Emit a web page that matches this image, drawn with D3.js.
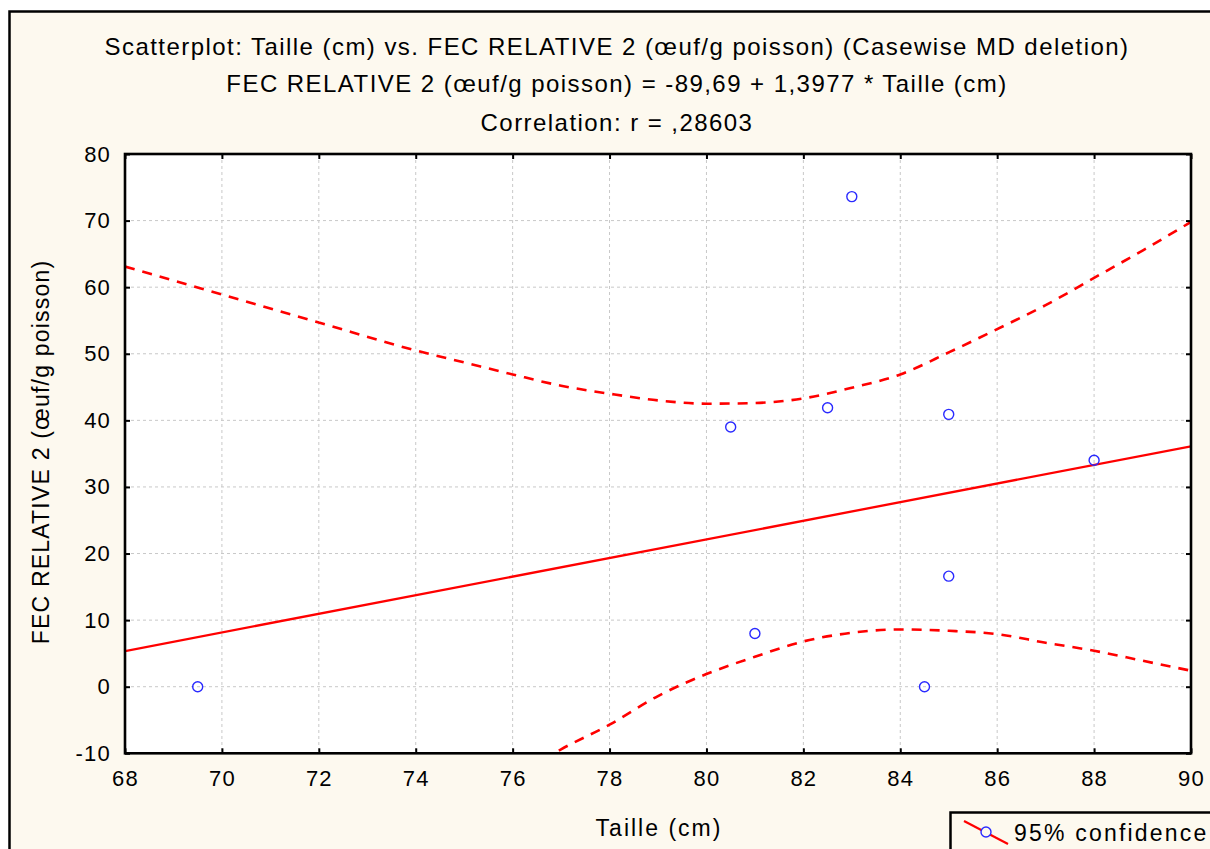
<!DOCTYPE html>
<html>
<head>
<meta charset="utf-8">
<script src="https://cdn.jsdelivr.net/npm/d3@7"></script>
<style>
  html, body { margin: 0; padding: 0; background: #ffffff; }
  svg { display: block; }
  text { font-family: "Liberation Sans", Arial, sans-serif; fill: #000; }
</style>
</head>
<body>
<svg id="chart" width="1210" height="849"></svg>
<script>
// ---- data ----
const pointsX = [69.5, 80.5, 81, 82.5, 83, 84.5, 85, 85, 88];
const pointsY = [0, 39, 8, 41.9, 73.6, 0, 40.9, 16.6, 34];

const fitIntercept = -89.69;
const fitSlope = 1.3977;

const upperX = [68, 70, 72, 74, 75, 76, 77, 78, 79, 80, 81, 82, 83, 84, 85, 86, 87, 88, 89, 90];
const upperY = [63.1, 58.9, 54.7, 50.5, 48.7, 46.9, 45.2, 44.0, 43.0, 42.5, 42.6, 43.3, 44.9, 46.9, 50.2, 53.7, 57.3, 61.4, 65.5, 69.8];

const lowerX = [76, 77, 78, 79, 80, 81, 82, 83, 84, 85, 86, 87, 88, 89, 90];
const lowerY = [-13.8, -9.4, -5.7, -1.4, 1.9, 4.5, 6.8, 8.1, 8.6, 8.4, 7.9, 6.6, 5.4, 3.9, 2.4];

const xTicks = [68, 70, 72, 74, 76, 78, 80, 82, 84, 86, 88, 90];
const yTicks = [-10, 0, 10, 20, 30, 40, 50, 60, 70, 80];

const titleLines = [
  "Scatterplot: Taille (cm) vs. FEC RELATIVE 2 (œuf/g poisson) (Casewise MD deletion)",
  "FEC RELATIVE 2 (œuf/g poisson) = -89,69 + 1,3977 * Taille (cm)",
  "Correlation: r = ,28603"
];
const xTitle = "Taille (cm)";
const yTitle = "FEC RELATIVE 2 (œuf/g poisson)";
const legendLabel = "95% confidence";

// ---- layout ----
const svg = d3.select("#chart");
const L = 125, R = 1191, T = 154, B = 753.3;
const x = d3.scaleLinear().domain([68, 90]).range([L, R]);
const y = d3.scaleLinear().domain([-10, 80]).range([B, T]);

// outer frame
svg.append("rect").attr("x", 9.5).attr("y", 11.5).attr("width", 1230).attr("height", 860)
  .attr("fill", "#fdf9ef").attr("stroke", "#000").attr("stroke-width", 2.5);

// plot bg
svg.append("rect").attr("x", L).attr("y", T).attr("width", R - L).attr("height", B - T).attr("fill", "#fff");

// grid
const grid = svg.append("g").attr("stroke", "#c8c8c8").attr("stroke-width", 1).attr("stroke-dasharray", "3,3");
xTicks.slice(1, -1).forEach(t => grid.append("line").attr("x1", x(t)).attr("x2", x(t)).attr("y1", T).attr("y2", B));
yTicks.slice(1, -1).forEach(t => grid.append("line").attr("y1", y(t)).attr("y2", y(t)).attr("x1", L).attr("x2", R));

// clip
svg.append("clipPath").attr("id", "clip").append("rect").attr("x", L).attr("y", T).attr("width", R - L).attr("height", B - T);
const plot = svg.append("g").attr("clip-path", "url(#clip)");

const lineGen = d3.line().x(d => x(d[0])).y(d => y(d[1])).curve(d3.curveMonotoneX);
const dashStyle = sel => sel.attr("fill", "none").attr("stroke", "#ff0000").attr("stroke-width", 2.6)
  .attr("stroke-dasharray", "10,8");

plot.append("path").datum(upperX.map((v, i) => [v, upperY[i]])).attr("d", lineGen).call(dashStyle);
plot.append("path").datum(lowerX.map((v, i) => [v, lowerY[i]])).attr("d", lineGen).call(dashStyle);

// fit line
const xDom = x.domain();
plot.append("line")
  .attr("x1", x(xDom[0])).attr("y1", y(fitIntercept + fitSlope * xDom[0]))
  .attr("x2", x(xDom[1])).attr("y2", y(fitIntercept + fitSlope * xDom[1]))
  .attr("stroke", "#ff0000").attr("stroke-width", 2.3);

// points
plot.selectAll("circle.pt").data(pointsX.map((v, i) => [v, pointsY[i]])).enter()
  .append("circle").attr("class", "pt")
  .attr("cx", d => x(d[0])).attr("cy", d => y(d[1])).attr("r", 5)
  .attr("fill", "none").attr("stroke", "#2a2aff").attr("stroke-width", 1.4);

// axes: frame + inward ticks on all sides
const tickLen = 5;
const fmt = d => String(d);
const axB = svg.append("g").attr("transform", `translate(0,${B})`)
  .call(d3.axisBottom(x).tickValues(xTicks).tickSizeInner(-tickLen).tickSizeOuter(0).tickPadding(17.5).tickFormat(fmt));
const axT = svg.append("g").attr("transform", `translate(0,${T})`)
  .call(d3.axisTop(x).tickValues(xTicks).tickSizeInner(-tickLen).tickSizeOuter(0).tickFormat(""));
const axL = svg.append("g").attr("transform", `translate(${L},0)`)
  .call(d3.axisLeft(y).tickValues(yTicks).tickSizeInner(-tickLen).tickSizeOuter(0).tickPadding(14).tickFormat(fmt));
const axR = svg.append("g").attr("transform", `translate(${R},0)`)
  .call(d3.axisRight(y).tickValues(yTicks).tickSizeInner(-tickLen).tickSizeOuter(0).tickFormat(""));
[axB, axT, axL, axR].forEach(a => {
  a.select(".domain").remove();
  a.selectAll(".tick line").attr("stroke", "#000").attr("stroke-width", 2);
  a.selectAll("text").attr("font-size", 22).attr("letter-spacing", 1.2)
    .attr("font-family", "Liberation Sans, Arial, sans-serif").attr("fill", "#000");
});
axB.selectAll("text").attr("dy", "0.71em");
axL.selectAll("text").attr("dy", "0.32em");

svg.append("rect").attr("x", L).attr("y", T).attr("width", R - L).attr("height", B - T)
  .attr("fill", "none").attr("stroke", "#000").attr("stroke-width", 2.6);

// titles
const titleY = [55, 92, 131];
titleLines.forEach((t, i) => {
  svg.append("text").attr("x", 617).attr("y", titleY[i]).attr("text-anchor", "middle")
    .attr("font-size", 24).attr("letter-spacing", 1.45).text(t);
});

svg.append("text").attr("x", 659).attr("y", 836).attr("text-anchor", "middle")
  .attr("font-size", 23).attr("letter-spacing", 2).text(xTitle);
svg.append("text").attr("transform", "translate(49,452) rotate(-90)").attr("text-anchor", "middle")
  .attr("font-size", 23).attr("letter-spacing", 1.2).text(yTitle);

// legend
const lg = svg.append("g");
lg.append("rect").attr("x", 950.5).attr("y", 812.5).attr("width", 300).attr("height", 60)
  .attr("fill", "#fdf9ef").attr("stroke", "#000").attr("stroke-width", 2.5);
lg.append("line").attr("x1", 964).attr("y1", 821).attr("x2", 1008).attr("y2", 844)
  .attr("stroke", "#ff0000").attr("stroke-width", 2.2);
lg.append("circle").attr("cx", 986).attr("cy", 832).attr("r", 5)
  .attr("fill", "#fdf9ef").attr("stroke", "#2a2aff").attr("stroke-width", 1.4);
lg.append("text").attr("x", 1014).attr("y", 841).attr("font-size", 23).attr("letter-spacing", 2.2).text(legendLabel);
</script>
</body>
</html>
